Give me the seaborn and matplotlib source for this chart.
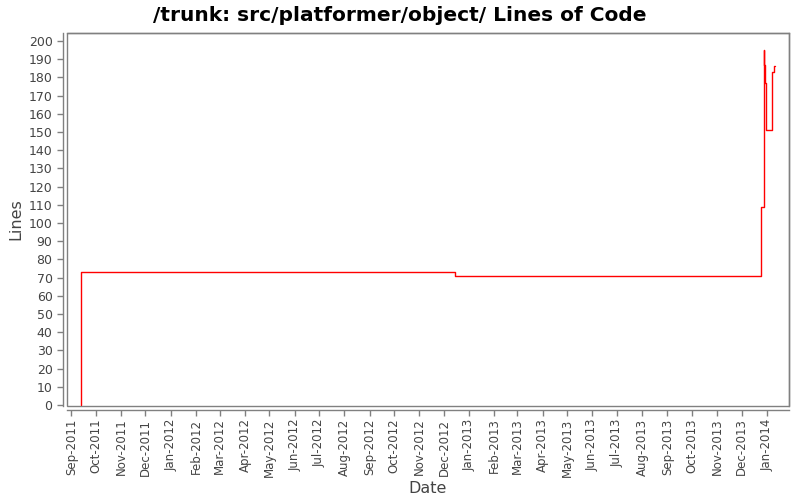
import numpy as np
import pandas as pd
import matplotlib
matplotlib.use("Agg")
import matplotlib.pyplot as plt
import matplotlib.dates as mdates
from matplotlib.patches import Rectangle
import seaborn as sns

# ==================== data ====================
dates = ["2011-09-13", "2011-09-13", "2012-12-15", "2013-12-25", "2013-12-28",
         "2013-12-29", "2013-12-30", "2013-12-31", "2014-01-07", "2014-01-10",
         "2014-01-11"]
lines = [0, 73, 71, 109, 195, 187, 177, 151, 183, 186, 186]

df = pd.DataFrame({"Date": pd.to_datetime(dates), "Lines": lines})

# ==================== plot ====================
sns.set_theme(style="white")
plt.rcParams["font.family"] = ["DejaVu Sans"]

GRAY = "#808080"
TXT = "#444444"

fig = plt.figure(figsize=(8, 5), dpi=100)
ax = fig.add_axes([0.084, 0.188, 0.902, 0.746])

sns.lineplot(data=df, x="Date", y="Lines", ax=ax, color="#ff0000",
             linewidth=1.0, drawstyle="steps-post", sort=False,
             estimator=None)

ax.set_xlim(pd.Timestamp("2011-08-27"), pd.Timestamp("2014-01-28"))
ax.set_ylim(-0.5, 204.4)
ax.set_yticks(np.arange(0, 201, 10))
ax.xaxis.set_major_locator(mdates.MonthLocator())
ax.xaxis.set_major_formatter(mdates.DateFormatter("%b-%Y"))

ax.tick_params(axis="both", colors=GRAY, labelcolor=TXT, labelsize=9,
               length=4, width=1, direction="out", left=True, bottom=True)
ax.tick_params(axis="x", pad=2, labelrotation=90, labelsize=8.5)

# offset axis lines + plot frame
for side in ["left", "bottom"]:
    ax.spines[side].set_position(("outward", 3))
for side in ax.spines:
    ax.spines[side].set_color(GRAY)
    ax.spines[side].set_linewidth(1)
ax.add_patch(Rectangle((0, 0), 1, 1, transform=ax.transAxes, fill=False,
                       edgecolor=GRAY, linewidth=1, clip_on=False))

ax.set_xlabel("Date", fontsize=11.5, color=TXT, labelpad=3)
ax.set_ylabel("Lines", fontsize=11.5, color=TXT, labelpad=4)
fig.suptitle("/trunk: src/platformer/object/ Lines of Code", fontsize=14.5,
             fontweight="bold", color="black", y=0.988)

fig.savefig("out.png", dpi=100)
plt.close(fig)
